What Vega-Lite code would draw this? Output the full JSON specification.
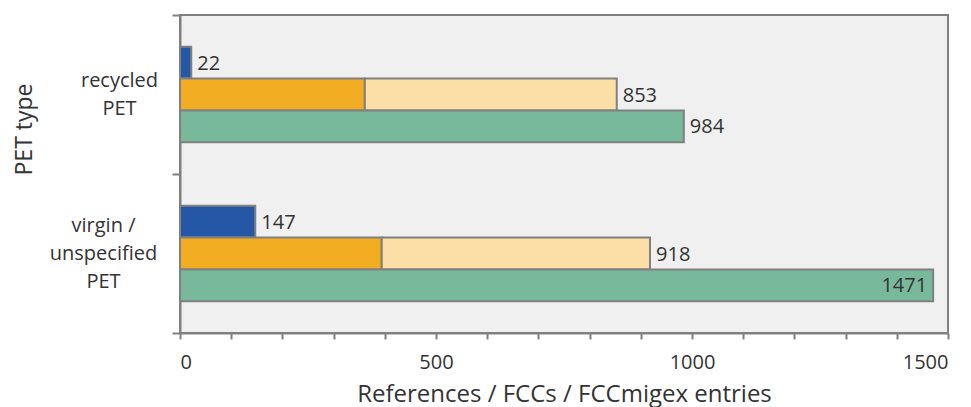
{
  "$schema": "https://vega.github.io/schema/vega-lite/v6.json",
  "width": 768,
  "height": 318,
  "autosize": "none",
  "padding": {"left": 180, "top": 15, "right": 23, "bottom": 74},
  "background": "white",
  "config": {
    "font": "Open Sans",
    "view": {"fill": "#f0f0f0", "stroke": "#808080", "strokeWidth": 2},
    "axis": {"domainColor": "#808080", "domainWidth": 2, "tickColor": "#808080", "tickWidth": 2, "labelColor": "#333333", "titleColor": "#333333", "grid": false, "labelFont": "Open Sans", "titleFont": "Open Sans", "titleFontWeight": "normal"}
  },
  "data": {
    "values": [
      {"pet": "recycled PET", "series": "a", "part": "References", "start": 0, "end": 22, "label": "22"},
      {"pet": "recycled PET", "series": "b", "part": "FCCs A", "start": 0, "end": 361, "label": ""},
      {"pet": "recycled PET", "series": "b", "part": "FCCs B", "start": 361, "end": 853, "label": "853"},
      {"pet": "recycled PET", "series": "c", "part": "FCCmigex", "start": 0, "end": 984, "label": "984"},
      {"pet": "virgin / unspecified PET", "series": "a", "part": "References", "start": 0, "end": 147, "label": "147"},
      {"pet": "virgin / unspecified PET", "series": "b", "part": "FCCs A", "start": 0, "end": 394, "label": ""},
      {"pet": "virgin / unspecified PET", "series": "b", "part": "FCCs B", "start": 394, "end": 918, "label": "918"},
      {"pet": "virgin / unspecified PET", "series": "c", "part": "FCCmigex", "start": 0, "end": 1471, "label": "1471"}
    ]
  },
  "encoding": {
    "y": {
      "field": "pet", "type": "nominal",
      "sort": ["recycled PET", "virgin / unspecified PET"],
      "scale": {"paddingInner": 0, "paddingOuter": 0},
      "axis": {
        "title": "PET type",
        "titleFontSize": 23,
        "titleAngle": -90,
        "titleX": -156,
        "titleY": 114,
        "titleBaseline": "middle",
        "titleAlign": "center",
        "tickBand": "extent",
        "tickSize": 8,
        "labelFontSize": 20,
        "labelAlign": "center",
        "labelBaseline": "middle",
        "labelLineHeight": 28,
        "labelPadding": {"expr": "datum.value == 'recycled PET' ? 53 : 69"},
        "labelOffset": {"expr": "datum.value == 'recycled PET' ? -14 : -28"},
        "labelExpr": "datum.value == 'recycled PET' ? ['recycled', 'PET'] : datum.value == 'virgin / unspecified PET' ? ['virgin /', 'unspecified', 'PET'] : ''"
      }
    },
    "yOffset": {
      "field": "series", "type": "nominal",
      "sort": ["a", "b", "c"],
      "scale": {"paddingInner": 0, "paddingOuter": 1.12}
    }
  },
  "layer": [
    {
      "mark": {"type": "bar", "stroke": "#808080", "strokeWidth": 2},
      "encoding": {
        "x": {
          "field": "start", "type": "quantitative",
          "scale": {"domain": [0, 1500], "nice": false},
          "axis": {
            "title": "References / FCCs / FCCmigex entries",
            "titleFontSize": 24,
            "titlePadding": 10,
            "format": "d",
            "values": [0, 100, 200, 300, 400, 500, 600, 700, 800, 900, 1000, 1100, 1200, 1300, 1400, 1500],
            "labelExpr": "datum.value % 500 == 0 ? datum.label : ''",
            "labelFontSize": 20,
            "labelPadding": 13,
            "tickSize": 6
          }
        },
        "x2": {"field": "end"},
        "color": {
          "field": "part", "type": "nominal",
          "scale": {"domain": ["References", "FCCs A", "FCCs B", "FCCmigex"], "range": ["#2458a6", "#f2ac22", "#fbdfa7", "#79b99b"]},
          "legend": null
        }
      }
    },
    {
      "transform": [{"filter": "datum.label != '' && datum.end < 1400"}],
      "mark": {"type": "text", "align": "left", "baseline": "middle", "dx": 6, "dy": 1, "fontSize": 20, "color": "#333333"},
      "encoding": {
        "x": {"field": "end", "type": "quantitative"},
        "text": {"field": "label"}
      }
    },
    {
      "transform": [{"filter": "datum.label != '' && datum.end >= 1400"}],
      "mark": {"type": "text", "align": "right", "baseline": "middle", "dx": -6, "dy": 1, "fontSize": 20, "color": "#333333"},
      "encoding": {
        "x": {"field": "end", "type": "quantitative"},
        "text": {"field": "label"}
      }
    }
  ]
}
